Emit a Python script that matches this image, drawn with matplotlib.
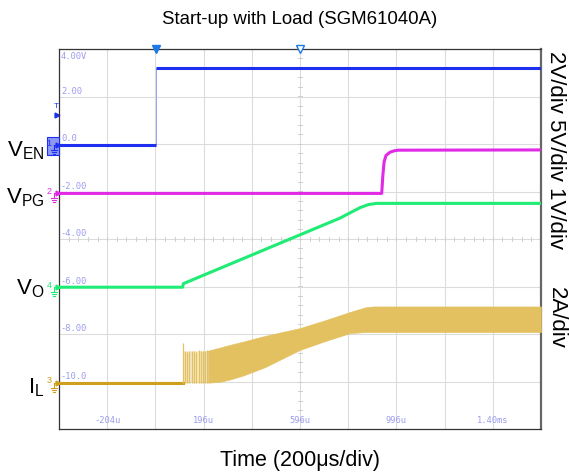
import matplotlib
matplotlib.use('Agg')
import matplotlib.pyplot as plt
import matplotlib.transforms as mtransforms
from matplotlib.patches import Rectangle
import numpy as np

plt.rcParams['font.family'] = ['Liberation Sans', 'DejaVu Sans']
plt.rcParams['mathtext.fontset'] = 'custom'
plt.rcParams['mathtext.rm'] = 'Liberation Sans'
plt.rcParams['mathtext.it'] = 'Liberation Sans'

W, H = 569, 473

# scope screen: time in us, vertical in screen volts (2 per div)
t_min, t_max = -404, 1596
v_min, v_max = -12, 4

# EN (ch1)
en_t = [-404, 0, 0, 1596]
en_v = [-0.05, -0.05, 3.19, 3.19]

# PG (ch2)
pg_t = [-404, 935, 940, 945, 953, 969, 985, 1003, 1596]
pg_v = [-2.08, -2.08, -1.3, -0.75, -0.48, -0.35, -0.29, -0.26, -0.25]

# VO (ch4)
vo_t = [-404, 109, 112, 762, 845, 880, 914, 1596]
vo_v = [-6.03, -6.03, -5.88, -3.12, -2.68, -2.55, -2.50, -2.50]

# IL (ch3) baseline, startup spikes and switching band envelope
il_base = -10.05
il_spike_t = [110, 119, 128, 137, 147, 156, 165, 175, 184, 193, 203, 212]
il_spike_top = [-8.38, -8.72, -8.75, -8.70, -8.72, -8.70, -8.75, -8.68, -8.72, -8.70, -8.70, -8.68]
il_t = [109, 214, 260, 300, 360, 450, 596, 700, 804, 866, 900, 1596]
il_top = [-8.72, -8.70, -8.58, -8.47, -8.32, -8.08, -7.75, -7.42, -7.07, -6.88, -6.84, -6.84]
il_bot = [-10.05, -10.05, -10.02, -9.93, -9.75, -9.40, -8.67, -8.30, -7.96, -7.92, -7.92, -7.92]

time_labels = ['-204u', '196u', '596u', '996u', '1.40ms']
time_label_t = [-204, 196, 596, 996, 1396]
volt_labels = ['4.00V', '2.00', '0.0', '-2.00', '-4.00', '-6.00', '-8.00', '-10.0']
volt_label_v = [4, 2, 0, -2, -4, -6, -8, -10]

c_en = '#1f2ff0'
c_pg = '#e02ae6'
c_vo = '#1fec74'
c_il = '#cf9f1e'
c_il_band = '#e3c160'
c_lab = '#9c9cf0'

fig = plt.figure(figsize=(W / 100, H / 100), dpi=100)
ax = fig.add_axes([59 / W, 44 / H, 482 / W, 380 / H])
ax.set_xlim(t_min, t_max)
ax.set_ylim(v_min, v_max)
ax.set_xticks([])
ax.set_yticks([])

# graticule
for t in np.arange(-204, 1596, 200):
    ax.axvline(t, color='#dcdcdc', lw=0.8, zorder=0)
for v in np.arange(-10, 4, 2):
    ax.axhline(v, color='#dcdcdc', lw=0.8, zorder=0)
for v in np.arange(-12, 4.01, 0.4):
    ax.plot([596 - 8, 596 + 8], [v, v], color='#cfcfcf', lw=0.7, zorder=0)
for t in np.arange(-404, 1597, 40):
    ax.plot([t, t], [-4 - 0.08, -4 + 0.08], color='#cfcfcf', lw=0.7, zorder=0)

for side in ['left', 'top', 'bottom']:
    ax.spines[side].set_color('#333333')
    ax.spines[side].set_linewidth(0.9)
ax.spines['right'].set_color('#666666')
ax.spines['right'].set_linewidth(1.6)

# scale labels inside the screen
for lab, v in zip(volt_labels, volt_label_v):
    if v == 4:
        ax.text(-396, v - 0.12, lab, color=c_lab, fontsize=6.3, family='DejaVu Sans Mono',
                ha='left', va='top')
    else:
        ax.text(-396, v + 0.03, lab, color=c_lab, fontsize=6.3, family='DejaVu Sans Mono',
                ha='left', va='bottom')
for lab, t in zip(time_labels, time_label_t):
    ax.text(t, -12 + 0.15, lab, color=c_lab, fontsize=6.3, family='DejaVu Sans Mono',
            ha='center', va='bottom')

# IL
ax.plot([t_min, il_t[0]], [il_base, il_base], color=c_il, lw=2.2, zorder=3)
ax.fill_between(il_t[:2], [il_base, il_base], il_top[:2], color=c_il_band, alpha=0.35, lw=0, zorder=2)
ax.vlines(il_spike_t, il_base, il_spike_top, color=c_il_band, lw=0.9, zorder=3)
ax.fill_between(il_t[1:], il_bot[1:], il_top[1:], color=c_il_band, lw=0.4, edgecolor=c_il_band, zorder=3)

# VO, PG, EN
ax.plot(vo_t, vo_v, color=c_vo, lw=2.2, zorder=4, solid_capstyle='butt')
ax.plot(pg_t, pg_v, color=c_pg, lw=2.2, zorder=4, solid_capstyle='butt')
ax.plot(en_t[:2], en_v[:2], color=c_en, lw=2.2, zorder=5, solid_capstyle='butt')
ax.plot(en_t[2:], en_v[2:], color=c_en, lw=2.2, zorder=5, solid_capstyle='butt')
ax.vlines(en_t[1], en_v[1], en_v[2], color='#9aa4f0', lw=0.7, zorder=4)

# trigger and center markers at top
ax.plot([0], [4], marker='v', color='#1e78e6', ms=6, clip_on=False, zorder=6)
ax.plot([596], [4], marker='v', mfc='white', mec='#1e78e6', ms=6, clip_on=False, zorder=6)

# channel ground markers left of the screen
tr = mtransforms.blended_transform_factory(fig.transFigure, ax.transData)
dy = 2 / 47.5
fx = lambda x: x / W


def ground_marker(v, color, num, boxed=False):
    if boxed:
        ax.add_patch(Rectangle((fx(46.7), v - 10 * dy), fx(12.6), 18 * dy, transform=tr,
                               facecolor='#8c98f2', edgecolor=color, lw=0.8, clip_on=False, zorder=5))
    ax.text(fx(49), v + 2 * dy, num, color=color, fontsize=6.5, ha='center', va='center',
            transform=tr, clip_on=False, zorder=6)
    ax.plot([fx(53.5), fx(58)], [v, v], color=color, lw=0.8, transform=tr, clip_on=False, zorder=6)
    ax.plot([fx(57.5)], [v], marker='>', color=color, ms=3.5, transform=tr, clip_on=False, zorder=6)
    ax.plot([fx(54), fx(54)], [v, v - 5 * dy], color=color, lw=0.8, transform=tr, clip_on=False, zorder=6)
    for k, hw in enumerate([3.3, 2.0, 0.8]):
        yy = v - (5 + 2 * k) * dy
        ax.plot([fx(54 - hw), fx(54 + hw)], [yy, yy], color=color, lw=0.8, transform=tr,
                clip_on=False, zorder=6)


ground_marker(en_v[0], c_en, '1', boxed=True)
ground_marker(pg_v[0], c_pg, '2')
ground_marker(vo_v[0], c_vo, '4')
ground_marker(il_base, c_il, '3')

# trigger level marker
ax.text(fx(56), 1.22 + 9 * dy, 'T', color=c_en, fontsize=6, ha='center', va='center',
        transform=tr, clip_on=False)
ax.plot([fx(56.5)], [1.22], marker='>', color=c_en, ms=3.5, transform=tr, clip_on=False)

# channel names
fig.text(44 / W, 1 - 156 / H, r'$\mathrm{V_{EN}}$', fontsize=16, ha='right', va='baseline')
fig.text(44 / W, 1 - 203 / H, r'$\mathrm{V_{PG}}$', fontsize=16, ha='right', va='baseline')
fig.text(44 / W, 1 - 294 / H, r'$\mathrm{V_{O}}$', fontsize=16, ha='right', va='baseline')
fig.text(44 / W, 1 - 393 / H, r'$\mathrm{I_{L}}$', fontsize=16, ha='right', va='baseline')

# scale annotations on the right
fig.text(556 / W, 1 - 150 / H, '2V/div 5V/div 1V/div', fontsize=16, rotation=270,
         ha='center', va='center')
fig.text(556 / W, 1 - 318 / H, '2A/div', fontsize=16, rotation=270, ha='center', va='center')

fig.text(300 / W, 1 - 20 / H, 'Start-up with Load (SGM61040A)', fontsize=13.4,
         ha='center', va='center')
fig.text(300 / W, 1 - 460 / H, 'Time (200μs/div)', fontsize=15.5, ha='center', va='center')

fig.savefig('out.png', dpi=100)
